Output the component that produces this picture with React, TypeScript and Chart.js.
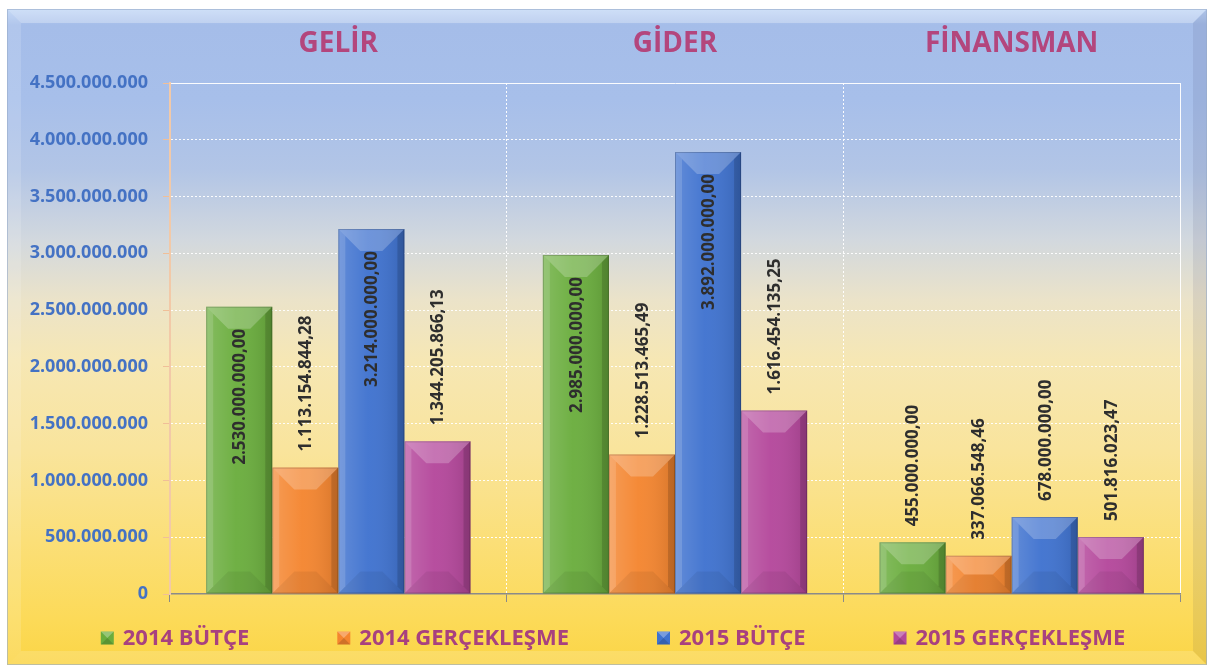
import React, { useEffect, useRef } from 'react';
import { Chart, registerables } from 'chart.js';

Chart.register(...registerables);

const categories = ['GELİR', 'GİDER', 'FİNANSMAN'];
const seriesNames = ['2014 BÜTÇE', '2014 GERÇEKLEŞME', '2015 BÜTÇE', '2015 GERÇEKLEŞME'];
const butce2014 = [2530000000.0, 2985000000.0, 455000000.0];
const gerceklesme2014 = [1113154844.28, 1228513465.49, 337066548.46];
const butce2015 = [3214000000.0, 3892000000.0, 678000000.0];
const gerceklesme2015 = [1344205866.13, 1616454135.25, 501816023.47];
const seriesColors = ['#6aad3d', '#f4852f', '#3f72cf', '#b4479b'];
const yMax = 4500000000;
const yStep = 500000000;

const FONT = '"Open Sans", "Noto Sans", sans-serif';
const W = 1209;
const H = 668;

function groupInt(s: string): string {
  return s.replace(/\B(?=(\d{3})+(?!\d))/g, '.');
}
function fmtTick(v: number): string {
  return groupInt(Math.round(v).toString());
}
function fmtValue(v: number): string {
  const [i, d] = v.toFixed(2).split('.');
  return groupInt(i) + ',' + d;
}

const backgroundPlugin = {
  id: 'frameBg',
  beforeDraw(chart: any) {
    const ctx = chart.ctx as CanvasRenderingContext2D;
    ctx.save();
    ctx.fillStyle = '#ffffff';
    ctx.fillRect(0, 0, W, H);
    const fx = 7, fy = 9, fr = 1207, fb = 665;
    const g = ctx.createLinearGradient(0, fy, 0, fb);
    const stops: [number, string][] = [
      [9, '#bcd3f5'], [25, '#a5bde9'], [100, '#a7bfea'], [170, '#b2c5e6'],
      [240, '#d2d8de'], [300, '#ebe3c9'], [360, '#f6e7b4'], [450, '#f9e49c'],
      [540, '#fbdf78'], [620, '#fcda58'], [665, '#fbd546'],
    ];
    stops.forEach(([y, c]) => g.addColorStop((y - fy) / (fb - fy), c));
    ctx.fillStyle = g;
    ctx.fillRect(fx, fy, fr - fx, fb - fy);
    const poly = (pts: number[][], fill: string) => {
      ctx.beginPath();
      ctx.moveTo(pts[0][0], pts[0][1]);
      for (let k = 1; k < pts.length; k++) ctx.lineTo(pts[k][0], pts[k][1]);
      ctx.closePath();
      ctx.fillStyle = fill;
      ctx.fill();
    };
    const bw = 14;
    poly([[fx, fy], [fr, fy], [fr - bw, fy + bw], [fx + bw, fy + bw]], 'rgba(255,255,255,0.28)');
    poly([[fx, fy], [fx + bw, fy + bw], [fx + bw, fb - bw], [fx, fb]], 'rgba(255,255,255,0.14)');
    poly([[fr, fy], [fr - bw, fy + bw], [fr - bw, fb - bw], [fr, fb]], 'rgba(40,40,90,0.09)');
    poly([[fx, fb], [fr, fb], [fr - bw, fb - bw], [fx + bw, fb - bw]], 'rgba(255,255,255,0.16)');
    ctx.strokeStyle = 'rgba(150,170,200,0.6)';
    ctx.lineWidth = 1;
    ctx.strokeRect(fx + 0.5, fy + 0.5, fr - fx - 1, fb - fy - 1);
    ctx.restore();
  },
};

const barDecorPlugin = {
  id: 'barDecor',
  afterDatasetsDraw(chart: any) {
    const ctx = chart.ctx as CanvasRenderingContext2D;
    ctx.save();
    chart.data.datasets.forEach((ds: any, di: number) => {
      const meta = chart.getDatasetMeta(di);
      meta.data.forEach((bar: any) => {
        const { x, y, base, width } = bar.getProps(['x', 'y', 'base', 'width'], true);
        const L = x - width / 2, R = x + width / 2, T = y, B = base;
        const h = B - T;
        const s = Math.min(22, h / 2, width / 2);
        const poly = (pts: number[][], fill: any) => {
          ctx.beginPath();
          ctx.moveTo(pts[0][0], pts[0][1]);
          for (let k = 1; k < pts.length; k++) ctx.lineTo(pts[k][0], pts[k][1]);
          ctx.closePath();
          ctx.fillStyle = fill;
          ctx.fill();
        };
        const hg = ctx.createLinearGradient(L, 0, R, 0);
        hg.addColorStop(0, 'rgba(255,255,255,0.18)');
        hg.addColorStop(0.45, 'rgba(255,255,255,0.04)');
        hg.addColorStop(1, 'rgba(0,0,0,0.12)');
        poly([[L, T], [R, T], [R, B], [L, B]], hg);
        poly([[L, T], [R, T], [R - s, T + s], [L + s, T + s]], 'rgba(255,255,255,0.22)');
        const e = Math.min(7, s);
        poly([[L, T], [L + e, T + e], [L + e, B - e], [L, B]], 'rgba(255,255,255,0.14)');
        poly([[R, T], [R - e, T + e], [R - e, B - e], [R, B]], 'rgba(0,0,0,0.14)');
        poly([[L, B], [R, B], [R - s, B - s], [L + s, B - s]], 'rgba(0,0,0,0.06)');
        ctx.strokeStyle = 'rgba(0,0,0,0.18)';
        ctx.lineWidth = 1;
        ctx.strokeRect(L + 0.5, T + 0.5, width - 1, h - 1);
      });
    });
    ctx.font = `bold 17px ${FONT}`;
    ctx.fillStyle = '#2e2e2e';
    ctx.textBaseline = 'middle';
    chart.data.datasets.forEach((ds: any, di: number) => {
      const meta = chart.getDatasetMeta(di);
      meta.data.forEach((bar: any, i: number) => {
        const { x, y, base } = bar.getProps(['x', 'y', 'base'], true);
        const text = fmtValue(ds.data[i]);
        const tw = ctx.measureText(text).width;
        const h = base - y;
        ctx.save();
        if (tw + 60 < h) {
          ctx.translate(x, y + 22);
          ctx.rotate(-Math.PI / 2);
          ctx.textAlign = 'right';
        } else {
          ctx.translate(x, y - 16);
          ctx.rotate(-Math.PI / 2);
          ctx.textAlign = 'left';
        }
        ctx.fillText(text, 0, 1);
        ctx.restore();
      });
    });
    ctx.restore();
  },
};

const legendPlugin = {
  id: 'bottomLegend',
  afterDraw(chart: any) {
    const ctx = chart.ctx as CanvasRenderingContext2D;
    ctx.save();
    ctx.font = `bold 22px ${FONT}`;
    ctx.textBaseline = 'middle';
    ctx.textAlign = 'left';
    const box = 13, gapBT = 9, gapItems = 88;
    const labels = chart.data.datasets.map((d: any) => d.label as string);
    const widths = labels.map((t: string) => box + gapBT + ctx.measureText(t).width);
    const total = widths.reduce((a: number, b: number) => a + b, 0) + gapItems * (labels.length - 1);
    let x = 613 - total / 2;
    const cy = 638;
    labels.forEach((t: string, i: number) => {
      const bx = x, by = cy - box / 2;
      ctx.fillStyle = seriesColors[i];
      ctx.fillRect(bx, by, box, box);
      ctx.fillStyle = 'rgba(255,255,255,0.3)';
      ctx.beginPath();
      ctx.moveTo(bx, by); ctx.lineTo(bx + box, by); ctx.lineTo(bx + box / 2, by + box / 2); ctx.closePath();
      ctx.fill();
      ctx.fillStyle = 'rgba(0,0,0,0.15)';
      ctx.beginPath();
      ctx.moveTo(bx, by + box); ctx.lineTo(bx + box, by + box); ctx.lineTo(bx + box / 2, by + box / 2); ctx.closePath();
      ctx.fill();
      ctx.fillStyle = '#a8417f';
      ctx.fillText(t, bx + box + gapBT, cy + 1);
      x += widths[i] + gapItems;
    });
    ctx.restore();
  },
};

export default function App() {
  const ref = useRef<HTMLCanvasElement>(null);
  useEffect(() => {
    if (!ref.current) return;
    Chart.defaults.font.family = FONT;
    const seriesData = [butce2014, gerceklesme2014, butce2015, gerceklesme2015];
    const chart = new Chart(ref.current, {
      type: 'bar',
      data: {
        labels: categories,
        datasets: seriesData.map((d, i) => ({
          label: seriesNames[i],
          data: d,
          backgroundColor: seriesColors[i],
          borderWidth: 0,
          categoryPercentage: 0.785,
          barPercentage: 1.0,
        })),
      },
      options: {
        responsive: false,
        animation: false,
        devicePixelRatio: 1,
        layout: { padding: { top: 9, left: 0, right: 29, bottom: 54 } },
        plugins: {
          legend: { display: false },
          tooltip: { enabled: false },
        },
        scales: {
          x: {
            position: 'bottom',
            ticks: { display: false },
            grid: {
              offset: true,
              color: (c: any) => (c.index === 0 ? 'rgba(0,0,0,0)' : 'rgba(255,255,255,0.95)'),
              lineWidth: 1,
              tickLength: 8,
              tickColor: '#8a8a8a',
            },
            border: {
              color: '#8a8a8a',
              width: 1.5,
              dash: (c: any) => (c.index === undefined ? [] : [2, 2]),
            },
            afterFit: (s: any) => { s.height = 20; },
          },
          x2: {
            type: 'category',
            position: 'top',
            labels: categories,
            offset: true,
            grid: { display: false, drawTicks: false },
            border: { display: false },
            ticks: {
              color: '#b3467d',
              font: { family: FONT, size: 28, weight: 'bold' },
              padding: 22,
              maxRotation: 0,
              autoSkip: false,
            },
            afterFit: (s: any) => { s.height = 74; },
          },
          y: {
            min: 0,
            max: yMax,
            ticks: {
              stepSize: yStep,
              color: '#4472c4',
              font: { family: FONT, size: 18, weight: 'bold' },
              padding: 15,
              callback: (v: any) => fmtTick(Number(v)),
            },
            grid: {
              color: (c: any) => (c.index === 0 ? 'rgba(0,0,0,0)' : 'rgba(255,255,255,0.95)'),
              lineWidth: 1,
              tickLength: 7,
              tickColor: '#f0bf98',
            },
            border: {
              color: '#f2c9a8',
              width: 2,
              dash: (c: any) => (c.index === 9 ? [] : [2, 2]),
            },
            afterFit: (s: any) => { s.width = 170; },
          },
        },
      } as any,
      plugins: [backgroundPlugin, barDecorPlugin, legendPlugin],
    });
    return () => chart.destroy();
  }, []);
  return (
    <div style={{ position: 'fixed', left: 0, top: 0, width: W, height: H, background: '#fff' }}>
      <canvas ref={ref} width={W} height={H} style={{ display: 'block', width: W, height: H }} />
    </div>
  );
}
